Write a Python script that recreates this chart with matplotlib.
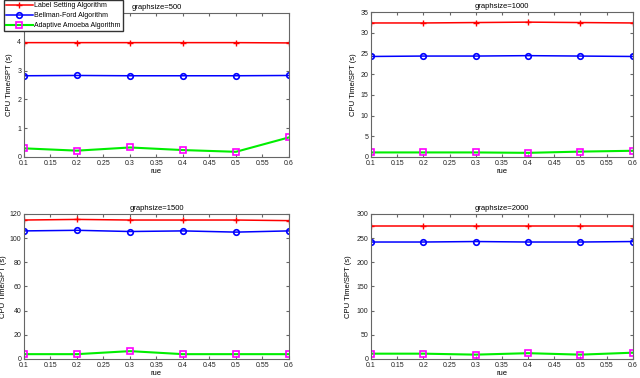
import matplotlib
matplotlib.use('Agg')
import matplotlib.pyplot as plt

plt.rcParams['font.family'] = ['Liberation Sans', 'DejaVu Sans']

rue = [0.1, 0.2, 0.3, 0.4, 0.5, 0.6]

# graphsize=500
label_500 = [3.97, 3.97, 3.97, 3.97, 3.97, 3.96]
bellman_500 = [2.82, 2.83, 2.82, 2.82, 2.82, 2.83]
amoeba_500 = [0.30, 0.22, 0.33, 0.24, 0.18, 0.68]
# graphsize=1000
label_1000 = [32.4, 32.4, 32.5, 32.6, 32.5, 32.4]
bellman_1000 = [24.3, 24.4, 24.4, 24.5, 24.4, 24.3]
amoeba_1000 = [1.1, 1.1, 1.1, 1.0, 1.3, 1.5]
# graphsize=1500
label_1500 = [115, 115.5, 115, 115, 115, 114.5]
bellman_1500 = [106, 106.5, 105.5, 106, 105, 106]
amoeba_1500 = [4, 4, 6.5, 4, 4, 4]
# graphsize=2000
label_2000 = [275, 275, 275, 275, 275, 275]
bellman_2000 = [242, 242, 243, 242, 242, 243]
amoeba_2000 = [11, 11, 9, 12, 9, 13]

panels = [
    ("graphsize=500", label_500, bellman_500, amoeba_500, 5, [0, 1, 2, 3, 4]),
    ("graphsize=1000", label_1000, bellman_1000, amoeba_1000, 35, range(0, 36, 5)),
    ("graphsize=1500", label_1500, bellman_1500, amoeba_1500, 120, range(0, 121, 20)),
    ("graphsize=2000", label_2000, bellman_2000, amoeba_2000, 300, range(0, 301, 50)),
]
positions = [
    [0.0375, 0.5847, 0.414, 0.381],
    [0.5797, 0.5847, 0.409, 0.383],
    [0.0375, 0.0503, 0.414, 0.3836],
    [0.5797, 0.0503, 0.409, 0.3836],
]
ylabel_x = [-0.042, -0.053, -0.064, -0.073]
xticks = [0.1, 0.15, 0.2, 0.25, 0.3, 0.35, 0.4, 0.45, 0.5, 0.55, 0.6]

fig = plt.figure(figsize=(6.4, 3.78), dpi=100)
handles = None
for pos, lx, (title, lab, bel, amo, ymax, yt) in zip(positions, ylabel_x, panels):
    ax = fig.add_axes(pos)
    h1, = ax.plot(rue, lab, color='red', marker='+', markersize=5, lw=1.1,
                  label='Label Setting Algorithm')
    h2, = ax.plot(rue, bel, color='blue', marker='o', markersize=4, mfc='none',
                  mew=1.2, lw=1.1, label='Bellman-Ford Algorithm')
    h3, = ax.plot(rue, amo, color='#00ee00', marker='s', markersize=4.5, mfc='none',
                  mec='magenta', mew=1.2, lw=1.5, label='Adaptive Amoeba Algorithm')
    handles = [h1, h2, h3]
    ax.set_xlim(0.1, 0.6)
    ax.set_ylim(0, ymax)
    ax.set_xticks(xticks)
    ax.set_xticklabels([f"{v:g}" for v in xticks])
    ax.set_yticks(list(yt))
    ax.tick_params(direction='in', top=True, right=True, labelsize=5, length=2.5,
                   pad=2, color='#666666', labelcolor='#222222')
    for s in ax.spines.values():
        s.set_color('#666666')
        s.set_linewidth(0.8)
    ax.set_title(title, fontsize=5.5, pad=3)
    ax.set_xlabel('rue', fontsize=5.5, labelpad=1)
    ax.set_ylabel('CPU Time/SPT (s)', fontsize=5.5)
    ax.yaxis.set_label_coords(lx, 0.5)

fig.legend(handles=handles, loc='upper left', bbox_to_anchor=(0.006, 1.0),
           fontsize=5, frameon=True, fancybox=False, edgecolor='#333333',
           borderpad=0.35, labelspacing=0.4, handlelength=3.8, handletextpad=0.25,
           borderaxespad=0.0, framealpha=1)

fig.savefig('out.png', dpi=100)
